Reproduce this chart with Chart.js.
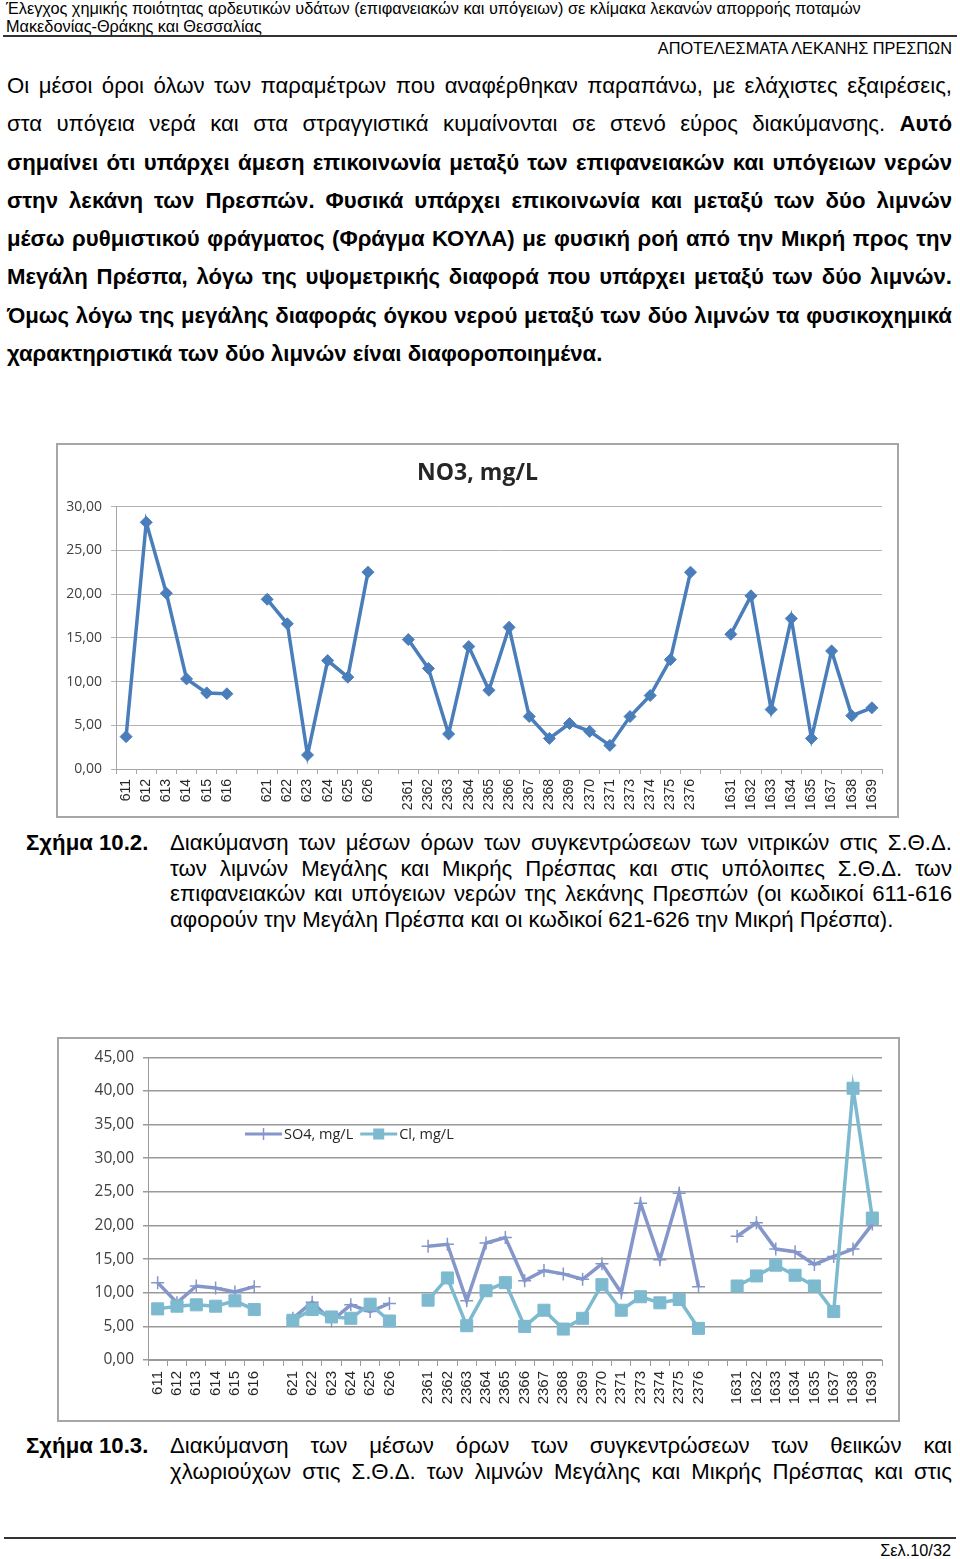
<!DOCTYPE html>
<html lang="el">
<head>
<meta charset="utf-8">
<title>Λεκάνη Πρεσπών - NO3, SO4, Cl</title>
<script src="https://cdn.jsdelivr.net/npm/chart.js@4.4.1/dist/chart.umd.min.js"></script>
<style>
html, body { margin: 0; padding: 0; background: #fff; }
body { position: relative; width: 960px; height: 1559px; overflow: hidden; color: #000;
       font-family: "Liberation Sans", Arial, sans-serif; }
.abs { position: absolute; }
.hdr { font-size: 16.3px; line-height: 18px; white-space: nowrap; }
.rule { position: absolute; height: 2px; background: #333; }
.para { left: 7px; top: 67px; width: 945px; font-size: 22.2px; line-height: 38.3px; word-spacing: -2px; }
.para div { text-align: justify; text-align-last: justify; }
.para div.last { text-align-last: left; word-spacing: 0; }
.cap { font-size: 22.2px; line-height: 25.7px; }
.cap .lbl { position: absolute; left: 26px; font-weight: bold; white-space: nowrap; }
.cap .txt { position: absolute; left: 170px; width: 782px; word-spacing: -2px; }
.cap .txt div { text-align: justify; text-align-last: justify; }
.cap .txt div.last { text-align-last: left; word-spacing: 0; }
.box { position: absolute; border: 2px solid #a6a6a6; box-sizing: border-box; }
canvas { position: absolute; }
</style>
</head>
<body>

<div class="abs hdr" style="left:6px; top:-1px;">Έλεγχος χημικής ποιότητας αρδευτικών υδάτων (επιφανειακών και υπόγειων) σε κλίμακα λεκανών απορροής ποταμών</div>
<div class="abs hdr" style="left:6px; top:17px;">Μακεδονίας-Θράκης και Θεσσαλίας</div>
<div class="rule" style="left:3px; top:35px; width:954px;"></div>
<div class="abs hdr" style="right:8px; top:39px;">ΑΠΟΤΕΛΕΣΜΑΤΑ ΛΕΚΑΝΗΣ ΠΡΕΣΠΩΝ</div>

<div class="abs para">
  <div>Οι μέσοι όροι όλων των παραμέτρων που αναφέρθηκαν παραπάνω, με ελάχιστες εξαιρέσεις,</div>
  <div>στα υπόγεια νερά και στα στραγγιστικά κυμαίνονται σε στενό εύρος διακύμανσης. <b>Αυτό</b></div>
  <div><b>σημαίνει ότι υπάρχει άμεση επικοινωνία μεταξύ των επιφανειακών και υπόγειων νερών</b></div>
  <div><b>στην λεκάνη των Πρεσπών. Φυσικά υπάρχει επικοινωνία και μεταξύ των δύο λιμνών</b></div>
  <div><b>μέσω ρυθμιστικού φράγματος (Φράγμα ΚΟΥΛΑ) με φυσική ροή από την Μικρή προς την</b></div>
  <div><b>Μεγάλη Πρέσπα, λόγω της υψομετρικής διαφορά που υπάρχει μεταξύ των δύο λιμνών.</b></div>
  <div><b>Όμως λόγω της μεγάλης διαφοράς όγκου νερού μεταξύ των δύο λιμνών τα φυσικοχημικά</b></div>
  <div class="last"><b>χαρακτηριστικά των δύο λιμνών είναι διαφοροποιημένα.</b></div>
</div>

<div class="box" style="left:56px; top:443px; width:843px; height:375px;"></div>
<canvas id="no3Chart" width="839" height="371" style="left:58px; top:445px;"></canvas>

<div class="abs cap" style="left:0; top:830px; width:960px;">
  <div class="lbl">Σχήμα 10.2.</div>
  <div class="txt">
    <div>Διακύμανση των μέσων όρων των συγκεντρώσεων των νιτρικών στις Σ.Θ.Δ.</div>
    <div>των λιμνών Μεγάλης και Μικρής Πρέσπας και στις υπόλοιπες Σ.Θ.Δ. των</div>
    <div>επιφανειακών και υπόγειων νερών της λεκάνης Πρεσπών (οι κωδικοί 611-616</div>
    <div class="last">αφορούν την Μεγάλη Πρέσπα και οι κωδικοί 621-626 την Μικρή Πρέσπα).</div>
  </div>
</div>

<div class="box" style="left:57px; top:1037px; width:843px; height:385px;"></div>
<canvas id="so4ClChart" width="839" height="381" style="left:59px; top:1039px;"></canvas>

<div class="abs cap" style="left:0; top:1433px; width:960px;">
  <div class="lbl">Σχήμα 10.3.</div>
  <div class="txt">
    <div>Διακύμανση των μέσων όρων των συγκεντρώσεων των θειικών και</div>
    <div>χλωριούχων στις Σ.Θ.Δ. των λιμνών Μεγάλης και Μικρής Πρέσπας και στις</div>
  </div>
</div>

<div class="rule" style="left:4px; top:1537px; width:952px; height:1.5px;"></div>
<div class="abs hdr" style="right:9px; top:1541px;">Σελ.10/32</div>

<script>
// station codes, "" = gap between groups
var stations = ["611", "612", "613", "614", "615", "616", "",
   "621", "622", "623", "624", "625", "626", "",
   "2361", "2362", "2363", "2364", "2365", "2366", "2367", "2368", "2369", "2370", "2371", "2373", "2374", "2375", "2376", "",
   "1631", "1632", "1633", "1634", "1635", "1637", "1638", "1639"];

var no3 = [3.7, 28.2, 20.1, 10.3, 8.7, 8.6, null,
   19.4, 16.6, 1.6, 12.4, 10.5, 22.5, null,
   14.8, 11.5, 4.0, 14.0, 9.0, 16.2, 6.0, 3.5, 5.2, 4.3, 2.7, 6.0, 8.4, 12.5, 22.5, null,
   15.4, 19.8, 6.8, 17.2, 3.5, 13.5, 6.1, 7.0];

var so4 = [11.5, 8.5, 11.0, 10.7, 10.1, 10.9, null,
   6.2, 8.6, 5.8, 8.2, 7.2, 8.4, null,
   16.9, 17.2, 8.8, 17.4, 18.2, 11.8, 13.3, 12.8, 12.0, 14.3, 10.0, 23.3, 14.9, 24.8, 10.9, null,
   18.4, 20.4, 16.5, 16.1, 14.2, 15.4, 16.5, 20.2];

var cl = [7.6, 8.0, 8.2, 8.0, 8.8, 7.5, null,
   5.9, 7.5, 6.4, 6.2, 8.3, 5.8, null,
   8.9, 12.2, 5.1, 10.3, 11.5, 5.0, 7.4, 4.6, 6.2, 11.2, 7.4, 9.4, 8.5, 9.0, 4.7, null,
   11.0, 12.5, 14.1, 12.6, 11.0, 7.2, 40.4, 21.1];

var no3Max = 30;
var ionsMax = 45;

function commaTick(v) {
   return Number(v).toFixed(2).replace(".", ",");
}

// legend drawn inside the plot area, like the excel one
var innerLegend = {
   id: "innerLegend",
   afterDraw: function (chart, args, opts) {
      var ctx = chart.ctx;
      var x = opts.x;
      var y = opts.y;
      ctx.save();
      ctx.font = opts.font;
      ctx.textBaseline = "middle";
      chart.data.datasets.forEach(function (ds) {
         var cx = x + 18.5;
         ctx.strokeStyle = ds.borderColor;
         ctx.lineWidth = 3;
         ctx.beginPath();
         ctx.moveTo(x, y);
         ctx.lineTo(x + 37, y);
         ctx.stroke();
         if (ds.pointStyle == "rect") {
            ctx.fillStyle = ds.borderColor;
            ctx.fillRect(cx - 5.5, y - 5.5, 11, 11);
         } else {
            ctx.lineWidth = 1.5;
            ctx.beginPath();
            ctx.moveTo(cx, y - 6);
            ctx.lineTo(cx, y + 6);
            ctx.stroke();
         }
         ctx.fillStyle = "#262626";
         ctx.fillText(ds.label, x + 39, y + 1);
         x += 39 + ctx.measureText(ds.label).width + 7;
      });
      ctx.restore();
   }
};

new Chart(document.getElementById("no3Chart"), {
   type: "line",
   data: {
      labels: stations,
      datasets: [{
         label: "NO3, mg/L",
         data: no3,
         borderColor: "#4A7EBB",
         backgroundColor: "#4A7EBB",
         borderWidth: 3.5,
         pointStyle: "rectRot",
         pointRadius: 6,
         pointBorderWidth: 1,
         tension: 0,
         spanGaps: false
      }]
   },
   options: {
      responsive: false,
      animation: false,
      devicePixelRatio: 1,
      layout: { padding: 0 },
      plugins: {
         legend: { display: false },
         tooltip: { enabled: false },
         title: {
            display: true,
            text: "NO3, mg/L",
            color: "#262626",
            font: { family: "Open Sans", size: 23, weight: "bold", lineHeight: 1.2 },
            padding: { top: 15, bottom: 19 }
         }
      },
      scales: {
         x: {
            offset: true,
            grid: { offset: true, drawOnChartArea: false, tickLength: 5, color: "#a6a6a6" },
            border: { color: "#a6a6a6" },
            ticks: {
               autoSkip: false, maxRotation: 90, minRotation: 90, padding: 5,
               color: "#262626", font: { family: "Liberation Sans", size: 14 }
            },
            afterFit: function (s) { s.height = 47; }
         },
         y: {
            min: 0,
            max: no3Max,
            ticks: {
               stepSize: 5, padding: 9, color: "#404040",
               font: { family: "Open Sans", size: 14 },
               callback: commaTick
            },
            grid: { color: "#b3b3b3", tickLength: 5 },
            border: { color: "#a6a6a6" },
            afterFit: function (s) { s.width = 58; }
         },
         // empty right axis, only keeps a margin right of the plot
         spacer: {
            position: "right",
            grid: { display: false },
            border: { display: false },
            ticks: { display: false },
            afterFit: function (s) { s.width = 15; }
         }
      }
   }
});

new Chart(document.getElementById("so4ClChart"), {
   type: "line",
   data: {
      labels: stations,
      datasets: [{
         label: "SO4, mg/L",
         data: so4,
         borderColor: "#8496CA",
         backgroundColor: "#8496CA",
         borderWidth: 3.5,
         pointStyle: "cross",
         pointRadius: 6.5,
         pointBorderWidth: 1.5,
         tension: 0,
         spanGaps: false,
         order: 1
      }, {
         label: "Cl, mg/L",
         data: cl,
         borderColor: "#7DBAD0",
         backgroundColor: "#7DBAD0",
         borderWidth: 3.5,
         pointStyle: "rect",
         pointRadius: 8.5,
         pointBorderWidth: 1,
         tension: 0,
         spanGaps: false,
         order: 0
      }]
   },
   options: {
      responsive: false,
      animation: false,
      devicePixelRatio: 1,
      layout: { padding: { left: 0, right: 16, top: 18, bottom: 0 } },
      plugins: {
         legend: { display: false },
         tooltip: { enabled: false },
         innerLegend: { x: 186, y: 95, font: "14.5px 'Open Sans'" }
      },
      scales: {
         x: {
            offset: true,
            grid: { offset: true, drawOnChartArea: false, tickLength: 6, color: "#9a9a9a" },
            border: { color: "#9a9a9a" },
            ticks: {
               autoSkip: false, maxRotation: 90, minRotation: 90, padding: 5,
               color: "#262626", font: { family: "Liberation Sans", size: 15 }
            },
            afterFit: function (s) { s.height = 60; }
         },
         y: {
            min: 0,
            max: ionsMax,
            ticks: {
               stepSize: 5, padding: 9, color: "#404040",
               font: { family: "Open Sans", size: 15.5 },
               callback: commaTick
            },
            grid: { color: "#9a9a9a", lineWidth: 1.5, tickLength: 5 },
            border: { color: "#9a9a9a" },
            afterFit: function (s) { s.width = 89; }
         }
      }
   },
   plugins: [innerLegend]
});
</script>
</body>
</html>
